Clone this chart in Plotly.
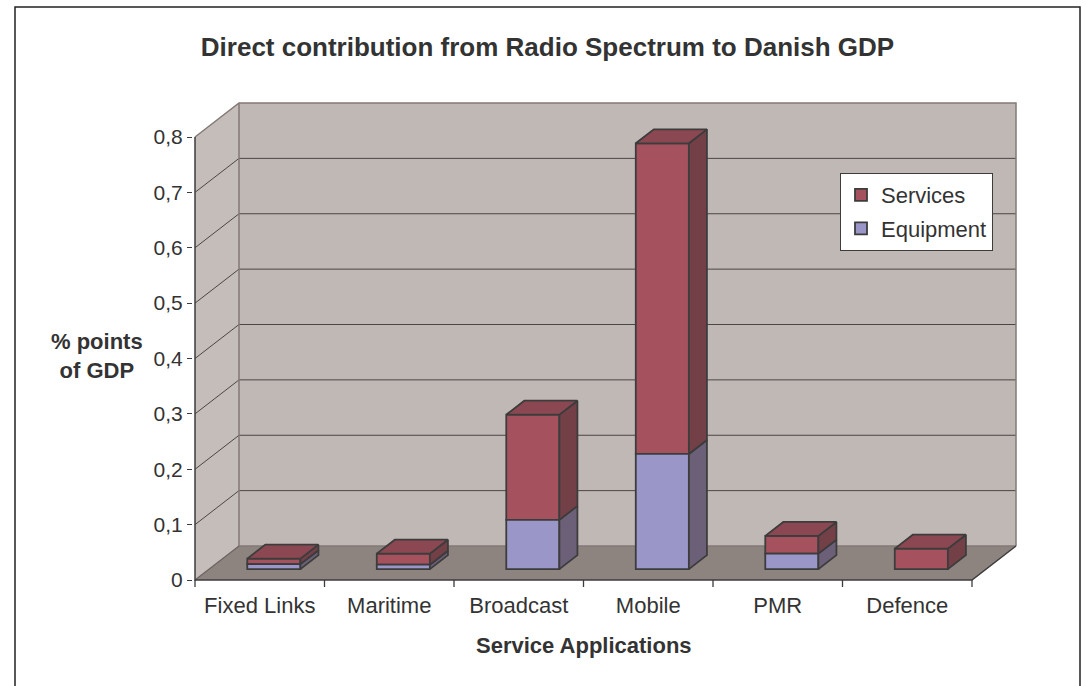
import plotly.graph_objects as go

# ---------------- data ----------------
categories = ["Fixed Links", "Maritime", "Broadcast", "Mobile", "PMR", "Defence"]
equipment = [0.009, 0.008, 0.089, 0.208, 0.028, 0.0]
services = [0.010, 0.020, 0.190, 0.561, 0.032, 0.037]
y_ticks = [0, 0.1, 0.2, 0.3, 0.4, 0.5, 0.6, 0.7, 0.8]
title_text = "Direct contribution from Radio Spectrum to Danish GDP"
x_title = "Service Applications"
y_title = "% points<br>of GDP"

# ---------------- layout geometry ----------------
W, H = 1086, 686
ML, MR, MT, MB = 193, 68, 102, 104
PW, PH = W - ML - MR, H - MT - MB
KX, KY = 129.5, 553.75           # px per category / px per unit value
XR0 = -0.5 - 2 / KX
XR1 = XR0 + PW / KX
YR0 = -2 / KY
YR1 = YR0 + PH / KY
DX, DY = 44 / KX, 34 / KY        # depth of the 3-D box in data units
D1, D2 = 0.32, 0.73              # bar depth span (fraction of box depth)
BW = 0.41                        # bar width (category units)
YMAX = y_ticks[-1]
N = len(categories)
XL, XRt = -0.5, N - 0.5

FONT = "Liberation Sans, Arial, sans-serif"
TXT = "#333333"
DARK = "#3c3c3c"
EDGE = "#837a77"
C_SERV, C_SERV_TOP, C_SERV_SIDE = "#a6525e", "#8c4852", "#734048"
C_EQ, C_EQ_TOP, C_EQ_SIDE = "#9b96c8", "#837fae", "#6c6078"


def pxx(px):
    return (px - ML) / PW


def pxy(py):
    return 1 - (py - MT) / PH


def path(pts, close=False):
    s = "M " + " L ".join(f"{x},{y}" for x, y in pts)
    return s + (" Z" if close else "")


shapes = []
# back wall
shapes.append(dict(type="path", xref="x", yref="y", layer="below",
                   path=path([(XL + DX, DY), (XRt + DX, DY), (XRt + DX, YMAX + DY), (XL + DX, YMAX + DY)], True),
                   fillcolor="#c0b8b5", line=dict(width=0)))
# side wall
shapes.append(dict(type="path", xref="x", yref="y", layer="below",
                   path=path([(XL, 0), (XL, YMAX), (XL + DX, YMAX + DY), (XL + DX, DY)], True),
                   fillcolor="#c5bdba", line=dict(width=0)))
# floor
shapes.append(dict(type="path", xref="x", yref="y", layer="below",
                   path=path([(XL, 0), (XRt, 0), (XRt + DX, DY), (XL + DX, DY)], True),
                   fillcolor="#8d837f", line=dict(width=0)))
# gridlines
for v in y_ticks[1:-1]:
    shapes.append(dict(type="path", xref="x", yref="y", layer="below",
                       path=path([(XL, v), (XL + DX, v + DY), (XRt + DX, v + DY)]),
                       line=dict(color="#4a4646", width=1)))
# wall edges
shapes.append(dict(type="path", xref="x", yref="y", layer="below",
                   path=path([(XL, YMAX), (XL + DX, YMAX + DY), (XRt + DX, YMAX + DY), (XRt + DX, DY)]),
                   line=dict(color=EDGE, width=1.5)))
shapes.append(dict(type="path", xref="x", yref="y", layer="below",
                   path=path([(XL + DX, YMAX + DY), (XL + DX, DY), (XRt + DX, DY)]),
                   line=dict(color=EDGE, width=1.5)))
shapes.append(dict(type="path", xref="x", yref="y", layer="below",
                   path=path([(XL, 0), (XL + DX, DY)]),
                   line=dict(color="#6a6260", width=1.2)))
# front axis edges
shapes.append(dict(type="path", xref="x", yref="y", layer="below",
                   path=path([(XL, YMAX), (XL, 0), (XRt, 0), (XRt + DX, DY)]),
                   line=dict(color=DARK, width=1.5)))
# x tick marks at category boundaries
for k in range(N + 1):
    shapes.append(dict(type="line", xref="x", yref="paper",
                       x0=XL + k, x1=XL + k, y0=pxy(580), y1=pxy(587),
                       line=dict(color=DARK, width=1.3)))
# outer chart border
shapes.append(dict(type="rect", xref="paper", yref="paper",
                   x0=pxx(15), x1=pxx(1080), y0=pxy(692), y1=pxy(7),
                   line=dict(color="#222222", width=1.5), fillcolor="rgba(0,0,0,0)", layer="below"))

fig = go.Figure()

xc = [i + D1 * DX for i in range(N)]
base0 = [D1 * DY] * N
serv_base = [D1 * DY + e for e in equipment]

fig.add_trace(go.Bar(name="Services", x=xc, y=services, base=serv_base, width=BW,
                     marker=dict(color=C_SERV, line=dict(color=DARK, width=1.8)),
                     legendgroup="s", hoverinfo="skip"))
fig.add_trace(go.Bar(name="Equipment", x=xc, y=[e if e > 0 else None for e in equipment],
                     base=base0, width=BW,
                     marker=dict(color=C_EQ, line=dict(color=DARK, width=1.8)),
                     legendgroup="e", hoverinfo="skip"))

bdx, bdy = (D2 - D1) * DX, (D2 - D1) * DY


def side_faces(bottoms, heights):
    xs, ys = [], []
    for i in range(N):
        h = heights[i]
        if h <= 0:
            continue
        xr = xc[i] + BW / 2
        yb, yt = bottoms[i], bottoms[i] + h
        xs += [xr, xr + bdx, xr + bdx, xr, xr, None]
        ys += [yb, yb + bdy, yt + bdy, yt, yb, None]
    return xs, ys


def top_faces(tops, mask):
    xs, ys = [], []
    for i in range(N):
        if not mask[i]:
            continue
        xl, xr = xc[i] - BW / 2, xc[i] + BW / 2
        yt = tops[i]
        xs += [xl, xr, xr + bdx, xl + bdx, xl, None]
        ys += [yt, yt, yt + bdy, yt + bdy, yt, None]
    return xs, ys


for bottoms, heights, col in [(base0, equipment, C_EQ_SIDE), (serv_base, services, C_SERV_SIDE)]:
    sx, sy = side_faces(bottoms, heights)
    fig.add_trace(go.Scatter(x=sx, y=sy, mode="lines", fill="toself", fillcolor=col,
                             line=dict(color=DARK, width=1.8), showlegend=False, hoverinfo="skip"))

tops = [serv_base[i] + services[i] for i in range(N)]
tx, ty = top_faces(tops, [s > 0 for s in services])
fig.add_trace(go.Scatter(x=tx, y=ty, mode="lines", fill="toself", fillcolor=C_SERV_TOP,
                         line=dict(color=DARK, width=1.8), showlegend=False, hoverinfo="skip"))
eq_only = [services[i] <= 0 and equipment[i] > 0 for i in range(N)]
tx, ty = top_faces([base0[i] + equipment[i] for i in range(N)], eq_only)
if tx:
    fig.add_trace(go.Scatter(x=tx, y=ty, mode="lines", fill="toself", fillcolor=C_EQ_TOP,
                             line=dict(color=DARK, width=1.8), showlegend=False, hoverinfo="skip"))

fig.update_layout(
    width=W, height=H,
    margin=dict(l=ML, r=MR, t=MT, b=MB, autoexpand=False),
    paper_bgcolor="white", plot_bgcolor="rgba(0,0,0,0)",
    barmode="overlay",
    separators=", ",
    font=dict(family=FONT, color=TXT, size=22),
    title=dict(text=title_text, x=547.5 / W, xanchor="center", y=1 - 47 / H, yanchor="middle",
               xref="container", yref="container",
               font=dict(family=FONT, size=26, color=TXT, weight="bold")),
    shapes=shapes,
    showlegend=True,
    legend=dict(x=pxx(840), y=pxy(173), xanchor="left", yanchor="top",
                bgcolor="white", bordercolor=DARK, borderwidth=1,
                font=dict(family=FONT, size=22, color=TXT),
                traceorder="grouped", tracegroupgap=2),
    xaxis=dict(range=[XR0, XR1], tickmode="array", tickvals=list(range(N)), ticktext=categories,
               ticks="", showgrid=False, zeroline=False, showline=False, fixedrange=True,
               ticklabelstandoff=8,
               tickfont=dict(size=22, color=TXT)),
    yaxis=dict(range=[YR0, YR1], tickmode="array", tickvals=y_ticks, ticks="outside", ticklen=5,
               tickcolor=DARK, tickwidth=1.3, showgrid=False, zeroline=False, showline=False,
               fixedrange=True, tickfont=dict(size=21, color=TXT)),
    annotations=[
        dict(text=f"<b>{x_title}</b>", xref="paper", yref="paper", x=pxx(584), y=pxy(645),
             xanchor="center", yanchor="middle", showarrow=False,
             font=dict(family=FONT, size=22, color=TXT)),
        dict(text=f"<b>{y_title}</b>", xref="paper", yref="paper", x=pxx(97), y=pxy(356),
             xanchor="center", yanchor="middle", showarrow=False, align="center",
             font=dict(family=FONT, size=22, color=TXT)),
    ],
)

fig.write_html("out.html")
